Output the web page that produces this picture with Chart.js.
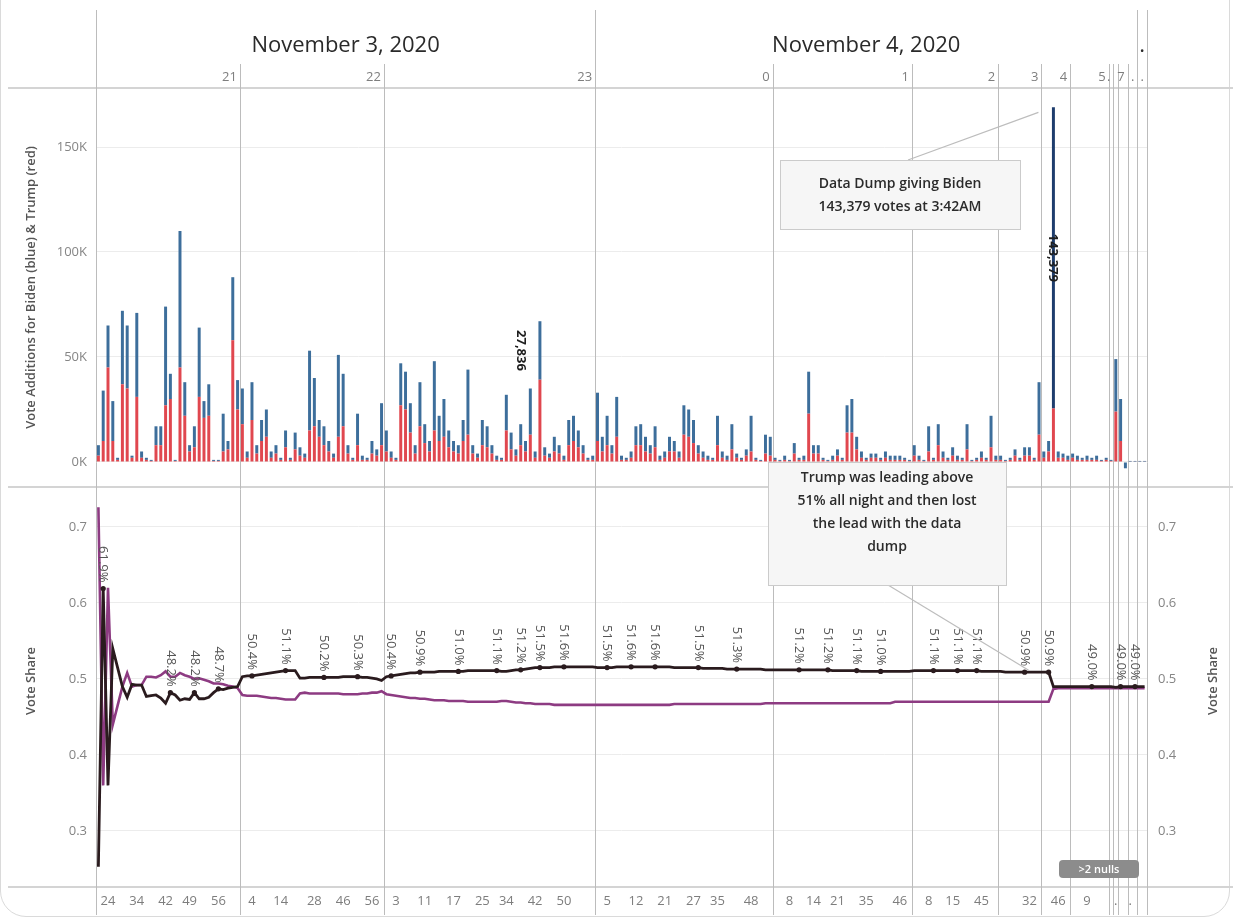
<!DOCTYPE html>
<html><head><meta charset="utf-8">
<script src="https://cdn.jsdelivr.net/npm/chart.js"></script>
<style>
html,body{margin:0;padding:0;background:#fff;}
#wrap{position:relative;width:1233px;height:922px;overflow:hidden;background:#fff;}
#frame{position:absolute;left:0;top:-40px;width:1230px;height:957px;border:1.5px solid #dadada;border-radius:26px;box-sizing:border-box;}
canvas{position:absolute;left:0;top:0;}
</style></head><body>
<div id="wrap"><div id="frame"></div><canvas id="c" width="1233" height="922"></canvas></div>
<script>
// ---------------- DATA ----------------
const dateNames  = ['November 3, 2020','November 4, 2020','.'];
const dateCounts = [104,113,2];
const bandHours  = ['21','22','23','0','1','2','3','4','5','.','','7','.','.'];
const bandCounts = [30,30,44,37,29,18,9,6,8,1,1,2,2,2];
const minuteTickIdx  = [2,8,14,19,25,32,38,45,51,57,62,68,74,80,85,91,97,106,112,118,124,129,136,144,149,154,160,167,173,178,184,194,200,206,212,215];
const minuteTickText = ['24','34','42','49','56','4','14','28','46','56','3','11','17','25','34','42','50','5','12','21','27','35','48','8','14','21','35','46','8','15','45','32','46','9','.','.'];
const barTicksK   = [0,50,100,150];
const shareTicks  = [0.3,0.4,0.5,0.6,0.7];

// Trump (red) vote additions, thousands
const trumpVotesK = [
3,10,45,10,1,37,35,2,31,2,
1,.5,8,8,27,30,.5,45,22,5,
7,31,21,22,.5,.5,5,6,58,25,
18,2,20,4,10,12,2,4,1,7,
1,6,3,2,15,17,12,8,5,2,
12,17,4,1,8,1,1,4,3,8,
5,2,1,27,25,14,4,17,9,5,
15,10,12,7,5,4,10,13,4,2,
8,7,4,1,1,15,6,3,8,5,
13,2,39.2,3,2,5,4,1,8,10,
7,4,1,1,10,5,8,4,12,1,
1,2,8,8,5,4,7,1,2,5,
5,2,13,12,9,4,2,1,1,8,
2,1,6,2,1,3,5,1,.5,4,
3,1,.5,1,.5,4,1,1,23,4,
4,1,.5,1,3,1,14,14,6,2,
1,2,2,1,2,1,1,1,1,.5,
3,1,.5,5,1,8,2,1,3,1,
1,6,.5,1,2,1,7,1,1,.5,
1,3,1,3,3,1,13,2,5,25.5,
2,2,1,2,1,1,1,1,1,.5,
1,.5,24,10,0,.2,.2,.2,.2];
// Biden (blue) vote additions, thousands
const bidenVotesK = [
5,24,20,19,1,35,30,1,40,3,
1,.5,9,9,47,12,.5,65,16,3,
10,33,8,15,.5,.5,18,4,30,14,
17,3,18,4,10,13,3,4,1,8,
1,8,4,2,38,23,8,9,5,2,
39,25,4,1,15,2,1,6,3,20,
10,3,1,20,18,14,4,21,9,5,
33,12,18,8,5,4,10,31,4,2,
12,10,4,2,1,17,8,3,10,5,
22,3,27.836,4,2,7,4,2,12,12,
8,4,1,2,23,7,14,4,19,2,
1,3,9,10,7,4,10,2,3,7,
5,3,14,13,11,4,3,2,1,14,
3,2,12,2,1,3,17,1,.5,9,
9,1,.5,2,.5,5,1,2,20,4,
4,1,.5,2,3,1,13,16,6,3,
1,2,2,1,3,2,2,2,1,.5,
5,2,.5,12,1,10,3,1,4,2,
1,12,.5,1,3,1,15,2,2,.5,
1,3,1,4,4,1,25,3,5,143.379,
3,2,2,2,2,1,2,1,2,.5,
1,.5,25,20,-3,.3,.3,.3,.3];
// Vote share
const trumpShare = [
.253,.619,.360,.540,.515,.490,.476,.493,.492,.492,
.477,.478,.479,.475,.468,.482,.479,.472,.474,.473,
.482,.474,.474,.476,.482,.487,.486,.488,.489,.490,
.503,.504,.504,.505,.506,.507,.508,.509,.510,.511,
.511,.511,.501,.501,.502,.502,.502,.502,.502,.502,
.502,.503,.503,.503,.503,.502,.502,.501,.500,.498,
.503,.504,.505,.506,.507,.508,.508,.509,.509,.509,
.509,.510,.510,.510,.510,.510,.510,.511,.511,.511,
.511,.511,.511,.511,.510,.510,.511,.512,.512,.513,
.514,.515,.515,.515,.515,.516,.516,.516,.516,.516,
.516,.516,.516,.516,.515,.515,.515,.515,.516,.516,
.516,.516,.516,.516,.516,.516,.516,.516,.516,.516,
.515,.515,.515,.515,.515,.515,.514,.514,.514,.514,
.514,.513,.513,.513,.513,.513,.513,.513,.513,.512,
.512,.512,.512,.512,.512,.512,.512,.512,.512,.512,
.512,.512,.512,.511,.511,.511,.511,.511,.511,.510,
.510,.510,.510,.510,.510,.510,.510,.510,.510,.510,
.511,.511,.511,.511,.511,.511,.511,.511,.511,.511,
.511,.511,.511,.511,.510,.510,.510,.510,.510,.509,
.509,.509,.509,.509,.509,.509,.509,.509,.509,.490,
.490,.490,.490,.490,.490,.490,.490,.490,.490,.490,
.490,.490,.489,.490,.490,.490,.490,.490,.490];
const bidenShare = [
.726,.360,.620,.440,.465,.490,.508,.490,.492,.492,
.503,.503,.502,.505,.510,.503,.503,.508,.505,.503,
.500,.501,.499,.497,.494,.494,.493,.491,.490,.488,
.479,.478,.478,.478,.477,.476,.475,.475,.474,.473,
.473,.473,.481,.482,.481,.481,.481,.481,.481,.481,
.481,.480,.480,.480,.480,.481,.481,.482,.482,.484,
.480,.479,.478,.477,.476,.475,.475,.474,.474,.473,
.472,.472,.472,.471,.471,.471,.471,.470,.470,.470,
.470,.470,.470,.470,.471,.471,.470,.469,.469,.468,
.468,.467,.467,.467,.467,.466,.466,.466,.466,.466,
.466,.466,.466,.466,.466,.466,.466,.466,.466,.466,
.466,.466,.466,.466,.466,.466,.466,.466,.466,.466,
.467,.467,.467,.467,.467,.467,.467,.467,.467,.467,
.467,.467,.467,.467,.467,.467,.467,.467,.467,.468,
.468,.468,.468,.468,.468,.468,.468,.468,.468,.468,
.468,.468,.468,.468,.468,.468,.468,.468,.468,.468,
.468,.468,.468,.468,.468,.468,.470,.470,.470,.470,
.470,.470,.470,.470,.470,.470,.470,.470,.470,.470,
.470,.470,.470,.470,.470,.470,.470,.470,.470,.470,
.470,.470,.470,.470,.470,.470,.470,.470,.470,.487,
.488,.488,.488,.488,.488,.488,.488,.488,.488,.488,
.488,.488,.488,.488,.488,.488,.488,.488,.488];
const shareLabelIdx = [1,15,20,25,32,39,47,54,61,67,75,83,88,92,97,106,111,116,125,133,146,152,158,163,174,179,183,193,198,207,213,216];
const barLabelIdx = [92,199];
const barLabelDx  = [-19,-1];

// ---------------- BUILD ----------------
const N = trumpVotesK.length;
const timeLabels = new Array(N).fill('');
minuteTickIdx.forEach((k,j)=>{ timeLabels[k] = minuteTickText[j]; });
const cum = a => a.reduce((o,c)=>{o.push(o[o.length-1]+c);return o;},[0]);
const hourEdges = cum(bandCounts);
const dateEdges = cum(dateCounts);
const labelSet = new Set(shareLabelIdx);

const FONT = '"Open Sans", "Noto Sans", sans-serif';
Chart.defaults.font.family = FONT;

const BAR_MIN = -202.4, BAR_MAX = 178.1;
const SH_MIN = 0.2263, SH_MAX = 1.2776, SH_PANEL_TOP = 0.7526;

const deco = {
  id:'deco',
  beforeDatasetsDraw(chart){
    const {ctx, chartArea:ca, scales} = chart;
    const x = scales.x;
    const half = (x.getPixelForValue(1)-x.getPixelForValue(0))/2;
    const edgeX = k => k>=N ? x.getPixelForValue(N-1)+half : x.getPixelForValue(k)-half;
    const divY = scales.yShare.getPixelForValue(SH_PANEL_TOP);
    ctx.save();
    ctx.strokeStyle='#d4d4d4'; ctx.lineWidth=2;
    [ca.top, divY, ca.bottom].forEach(y=>{ctx.beginPath();ctx.moveTo(8,y);ctx.lineTo(chart.width,y);ctx.stroke();});
    ctx.strokeStyle='#bcbcbc'; ctx.lineWidth=1;
    const all = new Set([...hourEdges, ...dateEdges]);
    all.forEach(k=>{
      const px = Math.round(edgeX(k))+0.5;
      const top = dateEdges.includes(k) ? 10 : 64;
      ctx.beginPath(); ctx.moveTo(px, top); ctx.lineTo(px, 915); ctx.stroke();
    });
    ctx.restore();
  },
  afterDraw(chart){
    const {ctx, chartArea:ca, scales} = chart;
    const x = scales.x, yB = scales.yBar, yS = scales.yShare;
    const half = (x.getPixelForValue(1)-x.getPixelForValue(0))/2;
    const edgeX = k => k>=N ? x.getPixelForValue(N-1)+half : x.getPixelForValue(k)-half;
    const divY = yS.getPixelForValue(SH_PANEL_TOP);
    ctx.save();
    // left vote-share tick labels
    ctx.fillStyle='#858585'; ctx.font='13px '+FONT; ctx.textAlign='right'; ctx.textBaseline='middle';
    shareTicks.forEach(v=>ctx.fillText(v.toFixed(1), ca.left-9, yS.getPixelForValue(v)));
    // date headers
    ctx.fillStyle='#2a2a2a'; ctx.font='22px '+FONT; ctx.textAlign='center';
    dateNames.forEach((d,j)=>{
      const cx=(edgeX(dateEdges[j])+edgeX(dateEdges[j+1]))/2;
      ctx.fillText(d, cx, 46);
    });
    // hour headers
    ctx.fillStyle='#7e7e7e'; ctx.font='13px '+FONT; ctx.textAlign='right';
    bandHours.forEach((h,j)=>{ if(h) ctx.fillText(h, edgeX(hourEdges[j+1])-3, 77); });
    // axis titles
    ctx.fillStyle='#555'; ctx.font='600 13px '+FONT; ctx.textAlign='center';
    const rotText=(t,cx,cy)=>{ctx.save();ctx.translate(cx,cy);ctx.rotate(-Math.PI/2);ctx.fillText(t,0,0);ctx.restore();};
    rotText('Vote Additions for Biden (blue) & Trump (red)', 31, (ca.top+divY)/2);
    rotText('Vote Share', 31, (divY+ca.bottom)/2 - 6);
    rotText('Vote Share', 1213, (divY+ca.bottom)/2 - 6);
    // bar labels
    ctx.fillStyle='#1e1e1e'; ctx.font='bold 13px '+FONT; ctx.textAlign='center'; ctx.textBaseline='middle';
    barLabelIdx.forEach((i,j)=>{
      const px = x.getPixelForValue(i)+barLabelDx[j];
      const py = yB.getPixelForValue(trumpVotesK[i]+bidenVotesK[i]/2);
      const t = Math.round(bidenVotesK[i]*1000).toLocaleString('en-US');
      ctx.save(); ctx.translate(px,py); ctx.rotate(Math.PI/2); ctx.fillText(t,0,0); ctx.restore();
    });
    // share labels
    ctx.fillStyle='#555'; ctx.font='13px '+FONT; ctx.textAlign='right'; ctx.textBaseline='middle';
    shareLabelIdx.forEach(i=>{
      const px = x.getPixelForValue(i), py = yS.getPixelForValue(trumpShare[i]);
      const t = (trumpShare[i]*100).toFixed(1)+'%';
      ctx.save(); ctx.translate(px,py-6); ctx.rotate(Math.PI/2); ctx.fillText(t,0,0); ctx.restore();
    });
    // annotation 1
    const dumpI = 199;
    const p1x = x.getPixelForValue(dumpI)-15, p1y = yB.getPixelForValue(trumpVotesK[dumpI]+bidenVotesK[dumpI])+5;
    ctx.strokeStyle='#bdbdbd'; ctx.lineWidth=1.2;
    ctx.beginPath(); ctx.moveTo(908,160); ctx.lineTo(p1x,p1y); ctx.stroke();
    ctx.fillStyle='#f6f6f6'; ctx.strokeStyle='#cbcbcb'; ctx.lineWidth=1;
    ctx.fillRect(780.5,160.5,240,69); ctx.strokeRect(780.5,160.5,240,69);
    ctx.fillStyle='#2b2b2b'; ctx.font='600 14px '+FONT; ctx.textAlign='center';
    ctx.fillText('Data Dump giving Biden', 900, 184);
    ctx.fillText('143,379 votes at 3:42AM', 900, 207);
    // annotation 2
    const aI = 193;
    const p2x = x.getPixelForValue(aI)+4, p2y = yS.getPixelForValue(trumpShare[aI])-2;
    ctx.strokeStyle='#bdbdbd'; ctx.lineWidth=1.2;
    ctx.beginPath(); ctx.moveTo(888,585); ctx.lineTo(p2x,p2y); ctx.stroke();
    ctx.fillStyle='#f6f6f6'; ctx.strokeStyle='#cbcbcb'; ctx.lineWidth=1;
    ctx.fillRect(768.5,462.5,238,123); ctx.strokeRect(768.5,462.5,238,123);
    ctx.fillStyle='#2b2b2b'; ctx.font='600 14px '+FONT;
    ['Trump was leading above','51% all night and then lost','the lead with the data','dump'].forEach((t,k)=>ctx.fillText(t, 887, 478+k*23));
    // nulls badge
    ctx.fillStyle='#8c8c8c';
    ctx.beginPath(); ctx.roundRect(1059,860,80,18,4); ctx.fill();
    ctx.fillStyle='#fff'; ctx.font='600 11px '+FONT;
    ctx.fillText('>2 nulls', 1099, 869.5);
    ctx.restore();
  }
};

new Chart(document.getElementById('c'), {
  type:'bar',
  data:{
    labels: timeLabels,
    datasets:[
      {type:'line', label:'Trump share', data:trumpShare, yAxisID:'yShare', borderColor:'#2a1b1e', borderWidth:2.8,
       pointRadius:c=>labelSet.has(c.dataIndex)?2.6:0, pointBackgroundColor:'#2a1b1e', pointBorderWidth:0, tension:0},
      {type:'line', label:'Biden share', data:bidenShare, yAxisID:'yShare', borderColor:'#8d3b82', borderWidth:2.6,
       pointRadius:0, tension:0},
      {label:'Trump', data:trumpVotesK, yAxisID:'yBar', backgroundColor:'#e0474f', categoryPercentage:1, barPercentage:0.62},
      {label:'Biden', data:bidenVotesK, yAxisID:'yBar', backgroundColor:c=>(c.raw>100?'#1e3d6d':'#3d6e9b'), categoryPercentage:1, barPercentage:0.62}
    ]
  },
  options:{
    responsive:false, animation:false, devicePixelRatio:1,
    layout:{padding:{top:88,left:0,right:0,bottom:0}},
    plugins:{legend:{display:false}, tooltip:{enabled:false}},
    scales:{
      x:{type:'category', offset:true, stacked:true,
         grid:{display:false, drawTicks:false}, border:{display:false},
         ticks:{autoSkip:false, maxRotation:0, minRotation:0, padding:6, color:'#7d7d7d', font:{size:13},
                callback:(v,i)=>timeLabels[i]},
         afterFit:s=>{s.height=35;}},
      yBar:{type:'linear', position:'left', stacked:true, min:BAR_MIN, max:BAR_MAX,
         afterBuildTicks:s=>{s.ticks=barTicksK.map(v=>({value:v}));},
         afterFit:s=>{s.width=96;},
         ticks:{callback:v=>v+'K', padding:9, color:'#858585', font:{size:13}},
         grid:{color:'#ececec', drawTicks:false}, border:{display:false}},
      yShare:{type:'linear', position:'left', min:SH_MIN, max:SH_MAX,
         afterBuildTicks:s=>{s.ticks=shareTicks.map(v=>({value:v}));},
         afterFit:s=>{s.width=0;},
         ticks:{display:false},
         grid:{color:'#ececec', drawTicks:false}, border:{display:false}},
      yShareR:{type:'linear', position:'right', min:SH_MIN, max:SH_MAX,
         afterBuildTicks:s=>{s.ticks=shareTicks.map(v=>({value:v}));},
         afterFit:s=>{s.width=86;},
         ticks:{callback:v=>v.toFixed(1), padding:11, color:'#858585', font:{size:13}},
         grid:{display:false, drawTicks:false}, border:{display:false}}
    }
  },
  plugins:[deco]
});
</script></body></html>
